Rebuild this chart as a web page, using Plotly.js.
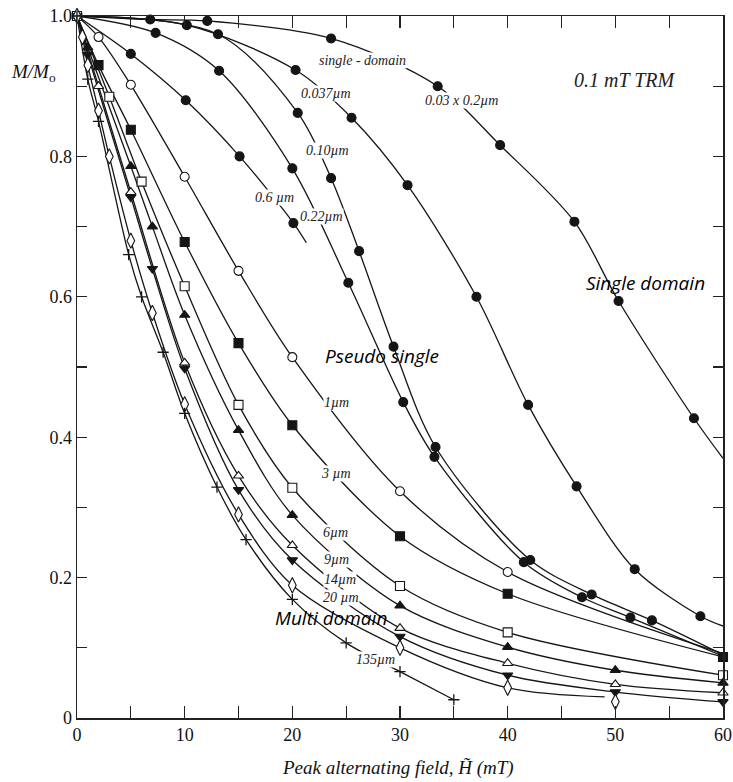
<!DOCTYPE html>
<html><head><meta charset="utf-8">
<script src="https://cdn.plot.ly/plotly-3.0.1.min.js"></script>
<style>html,body{margin:0;padding:0;background:#fff}#chart{width:733px;height:782px}</style>
</head><body><div id="chart"></div>
<script>
// ---- data (field H in mT, normalised remanence M/M0) ----
const H_sd = [0, 6.8, 12.1, 23.6, 33.5, 39.3, 46.2, 50.3, 57.3];
const M_sd = [1.0, 0.995, 0.993, 0.968, 0.900, 0.816, 0.707, 0.594, 0.427];
const tail_sd = [60, 0.37];

const H_037 = [0, 10.2, 20.3, 25.5, 30.7, 37.1, 41.9, 46.4, 51.8, 57.9];
const M_037 = [1.0, 0.987, 0.923, 0.855, 0.759, 0.600, 0.446, 0.330, 0.212, 0.145];
const tail_037 = [60, 0.131];

const H_010 = [0, 13.1, 20.5, 23.6, 26.2, 29.4, 33.3, 42.1, 47.8, 53.4];
const M_010 = [1.0, 0.974, 0.862, 0.769, 0.665, 0.529, 0.386, 0.225, 0.176, 0.139];
const tail_010 = [60, 0.09];

const H_022 = [0, 7.3, 13.2, 20.0, 25.2, 30.3, 33.2, 41.5, 46.9, 51.4];
const M_022 = [1.0, 0.976, 0.922, 0.783, 0.620, 0.450, 0.372, 0.222, 0.172, 0.143];
const tail_022 = [60, 0.088];

const H_06 = [0, 5.0, 10.1, 15.1, 20.1];
const M_06 = [1.0, 0.946, 0.880, 0.800, 0.705];
const tail_06 = [21.3, 0.677];

const H_1 = [0, 2, 5, 10, 15, 20, 30, 40];
const M_1 = [1.0, 0.970, 0.902, 0.771, 0.637, 0.514, 0.323, 0.208];
const tail_1 = [60, 0.092];

const H_3 = [0, 2, 5, 10, 15, 20, 30, 40, 60];
const M_3 = [1.0, 0.930, 0.838, 0.678, 0.534, 0.417, 0.259, 0.177, 0.087];

const H_6 = [0, 3, 6, 10, 15, 20, 30, 40, 60];
const M_6 = [1.0, 0.885, 0.764, 0.615, 0.446, 0.328, 0.188, 0.122, 0.061];

const H_9 = [0, 1, 5, 7, 10, 15, 20, 30, 40, 50, 60];
const M_9 = [1.0, 0.955, 0.786, 0.700, 0.574, 0.410, 0.289, 0.160, 0.101, 0.068, 0.050];

const H_14 = [0, 2, 5, 10, 15, 20, 30, 40, 50, 60];
const M_14 = [1.0, 0.900, 0.749, 0.506, 0.345, 0.246, 0.128, 0.078, 0.048, 0.036];

const H_20 = [0, 1, 5, 7, 10, 15, 20, 30, 40, 50, 60];
const M_20 = [1.0, 0.945, 0.742, 0.640, 0.498, 0.325, 0.225, 0.116, 0.061, 0.037, 0.023];

const H_110 = [0, 0.5, 1, 2, 3, 5, 7, 10, 15, 20, 30, 40, 50];
const M_110 = [1.0, 0.970, 0.930, 0.865, 0.800, 0.680, 0.577, 0.447, 0.290, 0.189, 0.100, 0.043, 0.023];
const tail_110 = [49, 0.030];

const H_135 = [0, 1, 2, 4.8, 6, 8, 10, 13, 15.7, 20, 25, 30, 35];
const M_135 = [1.0, 0.910, 0.850, 0.660, 0.600, 0.521, 0.434, 0.329, 0.254, 0.169, 0.107, 0.066, 0.026];

// curve labels
const curveLabels = ['single - domain', '0.03 x 0.2µm', '0.037µm', '0.10µm', '0.22µm', '0.6 µm',
                     '1µm', '3 µm', '6µm', '9µm', '14µm', '20 µm', '135µm'];
const curveLabelH = [26.5, 35.7, 23.1, 23.3, 22.7, 18.3, 24.1, 24.1, 24.0, 24.1, 24.4, 24.5, 27.7];
const curveLabelM = [0.937, 0.880, 0.889, 0.809, 0.714, 0.742, 0.449, 0.349, 0.264, 0.226, 0.198, 0.172, 0.083];

const regionLabels = ['Single domain', 'Pseudo single', 'Multi domain'];
const regionH = [52.8, 28.3, 23.6];
const regionM = [0.620, 0.516, 0.142];

const xTickVals = [0, 5, 10, 15, 20, 25, 30, 35, 40, 45, 50, 55, 60];
const xTickText = ['0', ' ', '10', ' ', '20', ' ', '30', ' ', '40', ' ', '50', ' ', '60'];
const yTickVals = [0, 0.1, 0.2, 0.3, 0.4, 0.5, 0.6, 0.7, 0.8, 0.9, 1.0];
const yTickText = ['0', ' ', '0.2', ' ', '0.4', ' ', '0.6', ' ', '0.8', ' ', '1.0'];

// ---- styles ----
const K = '#151515';
const series = [
  {H: H_sd, M: M_sd, tail: tail_sd, sym: 'circle', fill: K},
  {H: H_037, M: M_037, tail: tail_037, sym: 'circle', fill: K},
  {H: H_010, M: M_010, tail: tail_010, sym: 'circle', fill: K},
  {H: H_022, M: M_022, tail: tail_022, sym: 'circle', fill: K},
  {H: H_06, M: M_06, tail: tail_06, sym: 'circle', fill: K},
  {H: H_1, M: M_1, tail: tail_1, sym: 'circle', fill: '#fff'},
  {H: H_3, M: M_3, tail: null, sym: 'square', fill: K},
  {H: H_6, M: M_6, tail: null, sym: 'square', fill: '#fff'},
  {H: H_9, M: M_9, tail: null, sym: 'triangle-up', fill: K},
  {H: H_14, M: M_14, tail: null, sym: 'triangle-up', fill: '#fff'},
  {H: H_20, M: M_20, tail: null, sym: 'triangle-down', fill: K},
  {H: H_110, M: M_110, tail: tail_110, sym: 'diamond-tall', fill: '#fff'},
  {H: H_135, M: M_135, tail: null, sym: 'cross-thin', fill: K}
];

const traces = [];
series.forEach(s => {
  let lx = [], ly = [];
  s.H.forEach((h, i) => { if (!s.tail || h <= s.tail[0]) { lx.push(h); ly.push(s.M[i]); } });
  if (s.tail) { lx.push(s.tail[0]); ly.push(s.tail[1]); }
  traces.push({x: lx, y: ly, mode: 'lines', type: 'scatter', hoverinfo: 'skip', cliponaxis: false,
               line: {color: K, width: 1.3, shape: 'spline', smoothing: 0.9}, showlegend: false});
});
series.forEach(s => {
  traces.push({x: s.H, y: s.M, mode: 'markers', type: 'scatter', cliponaxis: false, showlegend: false,
               marker: {symbol: s.sym, size: s.sym === 'cross-thin' ? 8 : (s.sym === 'diamond-tall' ? 11 : 9),
                        color: s.fill, line: {color: K, width: s.sym === 'cross-thin' ? 1.3 : 1.1}}});
});

const serif = 'Liberation Serif';
const annotations = [];
curveLabels.forEach((t, i) => annotations.push({
  x: curveLabelH[i], y: curveLabelM[i], xref: 'x', yref: 'y', text: '<i>' + t + '</i>', showarrow: false,
  bgcolor: '#fff', borderpad: 0, font: {family: serif, size: 14, color: '#222'}
}));
annotations.push({x: 50.9, y: 0.909, xref: 'x', yref: 'y', text: '<i>0.1 mT TRM</i>', showarrow: false,
  font: {family: serif, size: 20, color: '#222'}});
regionLabels.forEach((t, i) => annotations.push({
  x: regionH[i], y: regionM[i], xref: 'x', yref: 'y', text: '<i>' + t + '</i>', showarrow: false,
  font: {family: 'Open Sans', size: 19, color: '#000'}
}));
annotations.push({x: -0.068, y: 0.919, xref: 'paper', yref: 'paper', xanchor: 'center', yanchor: 'middle',
  text: '<i>M/M</i><sub>o</sub>', showarrow: false, font: {family: serif, size: 19, color: '#111'}});
annotations.push({x: 0.497, y: -0.071, xref: 'paper', yref: 'paper', xanchor: 'center', yanchor: 'middle',
  text: '<i>Peak alternating field, H\u0303 (mT)</i>',
  showarrow: false, font: {family: serif, size: 19, color: '#111'}});

const axisCommon = {showline: true, linewidth: 1.5, linecolor: '#222', mirror: 'ticks', ticks: 'inside',
  tickwidth: 1.3, tickcolor: '#222', showgrid: false, zeroline: false,
  tickfont: {family: serif, size: 18, color: '#111'}};

const layout = {
  width: 733, height: 782, paper_bgcolor: '#fff', plot_bgcolor: '#fff',
  margin: {l: 77, r: 10, t: 16, b: 64},
  xaxis: Object.assign({}, axisCommon, {range: [0, 60], tickmode: 'array', tickvals: xTickVals, ticktext: xTickText, ticklen: 12}),
  yaxis: Object.assign({}, axisCommon, {range: [0, 1.0], tickmode: 'array', tickvals: yTickVals, ticktext: yTickText, ticklen: 10}),
  annotations: annotations, showlegend: false
};

Plotly.newPlot('chart', traces, layout, {staticPlot: true, displayModeBar: false});
</script></body></html>
